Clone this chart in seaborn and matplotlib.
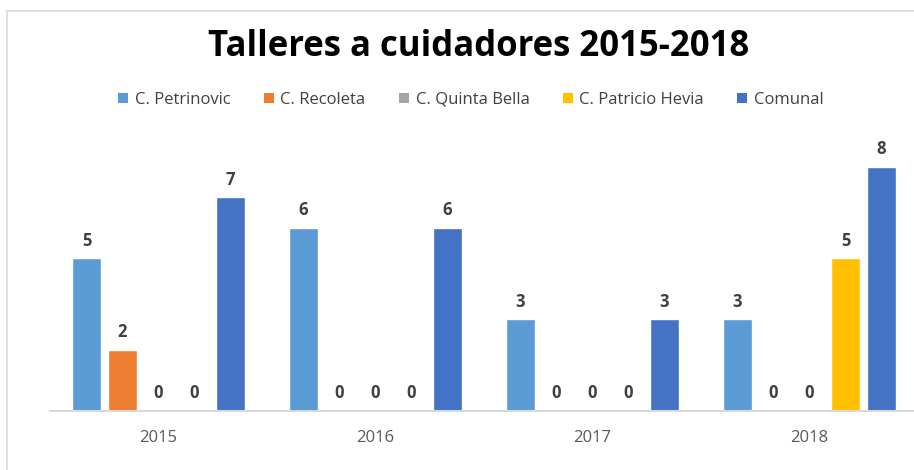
import pandas as pd
import matplotlib
matplotlib.use('Agg')
import matplotlib.pyplot as plt
import seaborn as sns
from matplotlib.patches import Patch, Rectangle

# --- datos ---
years = ['2015', '2016', '2017', '2018']
centros = ['C. Petrinovic', 'C. Recoleta', 'C. Quinta Bella', 'C. Patricio Hevia', 'Comunal']
petrinovic = [5, 6, 3, 3]
recoleta = [2, 0, 0, 0]
quinta_bella = [0, 0, 0, 0]
patricio_hevia = [0, 0, 0, 5]
comunal = [7, 6, 3, 8]
colores = ['#5B9BD5', '#ED7D31', '#A5A5A5', '#FFC000', '#4472C4']

series = [petrinovic, recoleta, quinta_bella, patricio_hevia, comunal]
rows = []
for centro, vals in zip(centros, series):
    for y, v in zip(years, vals):
        rows.append({'year': y, 'centro': centro, 'talleres': v})
df = pd.DataFrame(rows)

sns.set_theme(style='white')
plt.rcParams['font.family'] = ['Open Sans', 'DejaVu Sans']

fig = plt.figure(figsize=(9.14, 4.70), dpi=100)
ax = fig.add_axes([50 / 914, 59.5 / 470, 868 / 914, 274.5 / 470])

sns.barplot(data=df, x='year', y='talleres', hue='centro', hue_order=centros,
            order=years, palette=colores, width=0.83, gap=0.19, ax=ax,
            legend=False, errorbar=None, saturation=1)

for cont in ax.containers:
    ax.bar_label(cont, fmt='%d', padding=6, fontsize=12, fontweight='bold',
                 color='#404040')

ax.set_xlim(-0.5, 3.5)
ax.set_ylim(0, 9)
ax.set_xlabel('')
ax.set_ylabel('')
ax.set_yticks([])
ax.tick_params(axis='x', length=0, pad=14, labelsize=12, labelcolor='#595959')
for s in ['top', 'right', 'left']:
    ax.spines[s].set_visible(False)
ax.spines['bottom'].set_color('#D9D9D9')
ax.spines['bottom'].set_linewidth(1.5)
ax.patch.set_alpha(0)

fig.text(479 / 914, 1 - 47 / 470, 'Talleres a cuidadores 2015-2018', ha='center',
         va='center', fontsize=25, fontweight='bold', color='black')

handles = [Patch(facecolor=c, edgecolor='none') for c in colores]
fig.legend(handles, centros, loc='center', bbox_to_anchor=(471 / 914, 1 - 100 / 470),
           ncol=5, frameon=False, fontsize=12, handlelength=0.6, handleheight=0.6,
           handletextpad=0.4, columnspacing=2.0, labelcolor='#404040')

fig.patches.append(Rectangle((7 / 914, -0.1), 1.2, 1.1 - 11 / 470, transform=fig.transFigure,
                             fill=False, edgecolor='#D9D9D9', linewidth=1.2, zorder=-1))

fig.savefig('out.png', dpi=100)
